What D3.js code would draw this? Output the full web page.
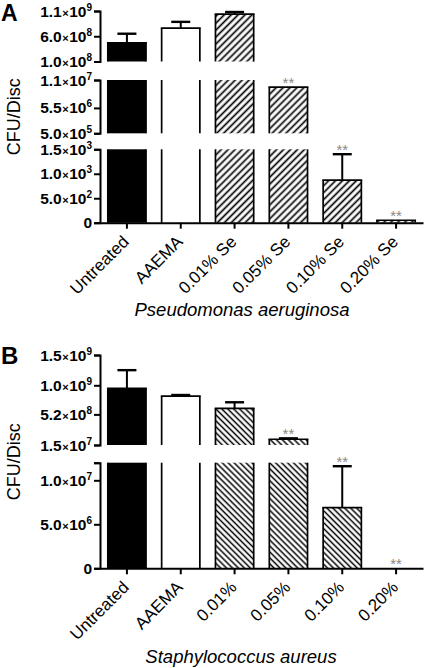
<!DOCTYPE html>
<html><head><meta charset="utf-8">
<script src="https://cdn.jsdelivr.net/npm/d3@7"></script>
<style>body{margin:0;background:#fff} svg{display:block}</style>
</head><body>
<svg id="chart" width="425" height="668"></svg>
<script>
// ---------- DATA ----------
const categoriesA = ["Untreated", "AAEMA", "0.01% Se", "0.05% Se", "0.10% Se", "0.20% Se"];
const valuesA = [4.7e8, 7.6e8, 1.04e9, 9.6e6, 870, 50];
const errorsA = [1.8e8, 1.25e8, 0.04e9, 0, 530, 0];
const starsA = ["", "", "", "**", "**", "**"];

const categoriesB = ["Untreated", "AAEMA", "0.01%", "0.05%", "0.10%", "0.20%"];
const valuesB = [9.5e8, 8.2e8, 6.2e8, 1.1e8, 6.9e6, 0];
const errorsB = [3.0e8, 0.2e8, 1.0e8, 0.15e8, 4.7e6, 0];
const starsB = ["", "", "", "**", "**", "**"];

const fillTypes = ["solid", "open", "hatch", "hatch", "hatch", "hatch"];

const segmentDomainsA = [[1e8, 1.1e9], [5e5, 1.1e7], [0, 1500]];
const segmentTicksA = [[1e8, 6e8, 1.1e9], [5e5, 5.5e6, 1.1e7], [0, 500, 1000, 1500]];
const segmentDomainsB = [[1.5e7, 1.5e9], [0, 1.2e7]];
const segmentTicksB = [[1.5e7, 5.2e8, 1e9, 1.5e9], [0, 5e6, 1e7, 1.2e7]];
const segmentLabeledB = [[true, true, true, true], [true, true, true, false]];

const titleA = "Pseudomonas aeruginosa";
const titleB = "Staphylococcus aureus";
const yLabel = "CFU/Disc";

// ---------- RENDER ----------
const FONT = "Arial, 'Liberation Sans', Helvetica, sans-serif";
const svg = d3.select("#chart");
svg.append("rect").attr("width", 425).attr("height", 668).attr("fill", "#fff");

const defs = svg.append("defs");
function hatch(id, angle, w, sw) {
  const p = defs.append("pattern").attr("id", id).attr("patternUnits", "userSpaceOnUse")
    .attr("width", w).attr("height", w).attr("patternTransform", `rotate(${angle})`);
  p.append("rect").attr("width", w).attr("height", w).attr("fill", "#fff");
  p.append("line").attr("x1", w / 2).attr("x2", w / 2).attr("y1", 0).attr("y2", w)
    .attr("stroke", "#000").attr("stroke-width", sw);
}
hatch("hatchA", 45, 4.9, 1.7);
hatch("hatchB", -45, 4.2, 1.5);

const AXIS_X = 100;
const x = d3.scaleBand().domain(d3.range(6)).range([AXIS_X, 423]).paddingInner(0.29).paddingOuter(0.145);

function sci(v) {
  const e = Math.floor(Math.log10(v) + 1e-9);
  const m = v / Math.pow(10, e);
  return [m.toFixed(1), e];
}

function drawPanel(cfg) {
  const g = svg.append("g");
  const scales = cfg.domains.map((d, k) => d3.scaleLinear().domain(d).range(cfg.ranges[k]));
  const fillOf = t => t === "solid" ? "#000" : t === "open" ? "#fff" : `url(#${cfg.hatchId})`;
  const bw = x.bandwidth();
  const starText = (sx, sy, s) => g.append("text").attr("x", sx).attr("y", sy).attr("text-anchor", "middle")
    .attr("font-family", FONT).attr("font-size", 15).attr("fill", "#888").text(s);

  scales.forEach((y, k) => {
    const [lo, hi] = y.domain();
    const bottom = y.range()[0];
    const ax = g.append("g").attr("transform", `translate(${AXIS_X},0)`)
      .call(d3.axisLeft(y).tickValues(cfg.ticks[k]).tickSize(6).tickSizeOuter(6).tickFormat(""));
    ax.select(".domain").attr("stroke-width", 2);
    ax.selectAll(".tick line").attr("stroke-width", 2);
    cfg.ticks[k].forEach((v, j) => {
      if (cfg.labeled && !cfg.labeled[k][j]) return;
      const t = g.append("text").attr("x", AXIS_X - 8).attr("y", y(v)).attr("dy", "0.36em")
        .attr("text-anchor", "end").attr("font-family", FONT).attr("font-weight", "bold")
        .attr("font-size", 15.5);
      if (v === 0) { t.text("0"); return; }
      const [m, e] = sci(v);
      t.append("tspan").text(m);
      t.append("tspan").attr("font-size", 11).attr("dx", 0.5).text("×");
      t.append("tspan").attr("dx", 0.5).text("10");
      t.append("tspan").attr("font-size", 10).attr("dy", -6).text(e);
    });

    cfg.values.forEach((v, i) => {
      if (v <= lo) return;
      const top = y(Math.min(v, hi));
      const x0 = x(i), x1 = x(i) + bw;
      g.append("rect").attr("x", x0).attr("y", top).attr("width", bw).attr("height", bottom - top)
        .attr("fill", fillOf(fillTypes[i]));
      [x0, x1].forEach(xx => g.append("line").attr("x1", xx).attr("x2", xx).attr("y1", top).attr("y2", bottom)
        .attr("stroke", "#000").attr("stroke-width", 1.7));
      if (v <= hi) {
        g.append("line").attr("x1", x0 - 0.85).attr("x2", x1 + 0.85).attr("y1", top).attr("y2", top)
          .attr("stroke", "#000").attr("stroke-width", 1.7);
        const err = cfg.errors[i];
        let starY = top;
        if (err > 0) {
          const cy = y(Math.min(v + err, hi));
          const cx = x0 + bw / 2;
          g.append("line").attr("x1", cx).attr("x2", cx).attr("y1", top).attr("y2", cy)
            .attr("stroke", "#000").attr("stroke-width", 2);
          g.append("line").attr("x1", cx - 9.5).attr("x2", cx + 9.5).attr("y1", cy).attr("y2", cy)
            .attr("stroke", "#000").attr("stroke-width", 2.4);
          starY = cy;
        }
        if (cfg.stars[i]) starText(x0 + bw / 2, starY + 1, cfg.stars[i]);
      }
    });
    if (k === scales.length - 1) {
      cfg.values.forEach((v, i) => {
        if (v <= lo && cfg.stars[i]) starText(x(i) + bw / 2, bottom + 1, cfg.stars[i]);
      });
    }
  });

  const yb = scales[scales.length - 1].range()[0];
  const xa = g.append("g").attr("transform", `translate(0,${yb})`)
    .call(d3.axisBottom(x).tickSize(6).tickSizeOuter(0).tickFormat(""));
  xa.select(".domain").attr("stroke-width", 2);
  xa.selectAll(".tick line").attr("stroke-width", 2);
  cfg.categories.forEach((c, i) => {
    const cx = x(i) + bw / 2;
    g.append("text").attr("transform", `translate(${cx + 3},${yb + 20}) rotate(-45)`)
      .attr("text-anchor", "end").attr("font-family", FONT).attr("font-size", 17).text(c);
  });

  g.append("text").attr("x", cfg.titleX).attr("y", cfg.titleY).attr("text-anchor", "middle")
    .attr("font-family", FONT).attr("font-style", "italic").attr("font-size", 18.5).text(cfg.title);
  const top0 = scales[0].range()[1];
  g.append("text").attr("transform", `translate(20,${(top0 + yb) / 2}) rotate(-90)`)
    .attr("text-anchor", "middle").attr("font-family", FONT).attr("font-size", 18).text(yLabel);
  g.append("text").attr("x", 1).attr("y", cfg.letterY).attr("font-family", FONT)
    .attr("font-weight", "bold").attr("font-size", cfg.letterSize).text(cfg.letter);
}

drawPanel({
  letter: "A", letterY: 21, letterSize: 23,
  categories: categoriesA, values: valuesA, errors: errorsA, stars: starsA,
  domains: segmentDomainsA, ticks: segmentTicksA,
  ranges: [[61.5, 11], [133.3, 80], [222.7, 149.3]],
  hatchId: "hatchA", title: titleA, titleX: 242, titleY: 316
});
drawPanel({
  letter: "B", letterY: 364, letterSize: 24,
  categories: categoriesB, values: valuesB, errors: errorsB, stars: starsB,
  domains: segmentDomainsB, ticks: segmentTicksB, labeled: segmentLabeledB,
  ranges: [[445, 355], [568.3, 462.7]],
  hatchId: "hatchB", title: titleB, titleX: 241, titleY: 663
});
</script>
</body></html>
